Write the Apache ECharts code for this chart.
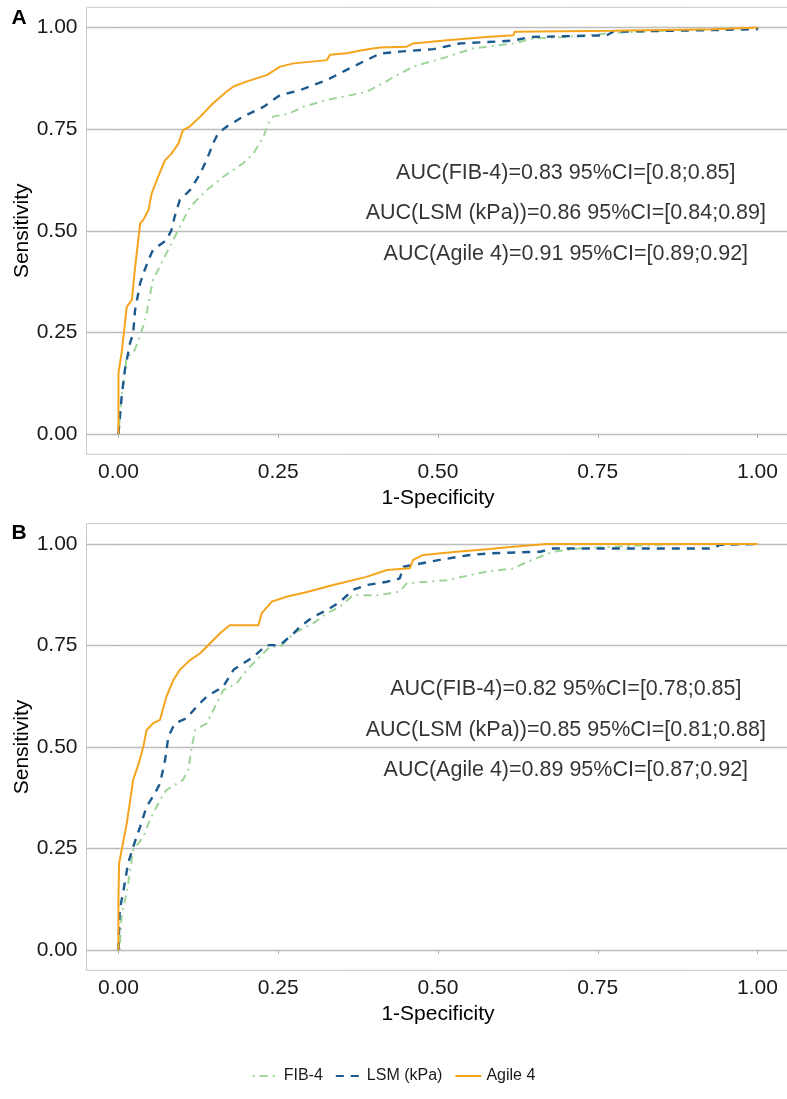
<!DOCTYPE html>
<html><head><meta charset="utf-8">
<script src="https://cdn.jsdelivr.net/npm/echarts@6/dist/echarts.min.js"></script>
<style>html,body{margin:0;padding:0;background:#fff}#c{width:787px;height:1099px}</style>
</head><body><div id="c"></div>
<script>
const seriesNames = ['FIB-4', 'LSM (kPa)', 'Agile 4'];
const tickValues = [0, 0.25, 0.5, 0.75, 1];
const panelLetters = ['A', 'B'];

// Panel A
const A_fib = [[0,0],[0.005,0.092],[0.013,0.19],[0.023,0.198],[0.034,0.24],[0.044,0.297],[0.054,0.379],[0.062,0.404],[0.075,0.445],[0.091,0.494],[0.112,0.559],[0.138,0.6],[0.164,0.633],[0.195,0.666],[0.211,0.69],[0.227,0.731],[0.234,0.764],[0.242,0.781],[0.268,0.789],[0.289,0.805],[0.326,0.822],[0.352,0.83],[0.388,0.842],[0.414,0.863],[0.43,0.878],[0.461,0.904],[0.514,0.928],[0.555,0.949],[0.618,0.961],[0.649,0.973],[0.722,0.979],[0.774,0.987],[0.879,0.994],[0.93,0.996],[1,1]];
const A_lsm = [[0,0],[0.005,0.092],[0.01,0.157],[0.018,0.223],[0.023,0.248],[0.026,0.305],[0.034,0.371],[0.039,0.395],[0.047,0.428],[0.054,0.453],[0.075,0.477],[0.083,0.502],[0.088,0.535],[0.096,0.576],[0.112,0.6],[0.128,0.641],[0.138,0.674],[0.148,0.715],[0.156,0.74],[0.169,0.756],[0.195,0.781],[0.227,0.805],[0.242,0.822],[0.253,0.834],[0.284,0.846],[0.326,0.871],[0.357,0.896],[0.388,0.92],[0.409,0.936],[0.44,0.941],[0.493,0.947],[0.534,0.961],[0.618,0.968],[0.644,0.977],[0.764,0.981],[0.774,0.99],[0.931,0.994],[0.999,0.996],[1,1]];
const A_agile = [[0,0],[0,0.15],[0.005,0.2],[0.013,0.313],[0.021,0.33],[0.026,0.41],[0.034,0.518],[0.039,0.527],[0.047,0.551],[0.052,0.592],[0.062,0.633],[0.073,0.674],[0.083,0.69],[0.094,0.715],[0.101,0.748],[0.111,0.756],[0.128,0.781],[0.148,0.814],[0.169,0.842],[0.18,0.855],[0.2,0.867],[0.232,0.883],[0.253,0.904],[0.274,0.912],[0.326,0.92],[0.331,0.933],[0.357,0.937],[0.383,0.945],[0.409,0.951],[0.451,0.953],[0.461,0.961],[0.514,0.969],[0.576,0.977],[0.618,0.981],[0.62,0.99],[0.774,0.992],[0.93,0.996],[1,1]];
const A_auc = ['AUC(FIB-4)=0.83 95%CI=[0.8;0.85]', 'AUC(LSM (kPa))=0.86 95%CI=[0.84;0.89]', 'AUC(Agile 4)=0.91 95%CI=[0.89;0.92]'];

// Panel B
const B_fib = [[0.002,0],[0.005,0.09],[0.013,0.14],[0.023,0.246],[0.039,0.279],[0.049,0.32],[0.065,0.369],[0.075,0.394],[0.101,0.419],[0.109,0.443],[0.115,0.501],[0.12,0.542],[0.138,0.558],[0.164,0.64],[0.185,0.657],[0.201,0.69],[0.221,0.722],[0.237,0.747],[0.253,0.747],[0.274,0.78],[0.305,0.805],[0.326,0.829],[0.347,0.846],[0.367,0.874],[0.409,0.874],[0.44,0.883],[0.451,0.903],[0.514,0.911],[0.576,0.932],[0.618,0.94],[0.634,0.952],[0.654,0.965],[0.68,0.981],[0.722,0.989],[0.795,0.995],[0.878,1],[1,1]];
const B_lsm = [[0,0],[0.002,0.099],[0.008,0.148],[0.015,0.213],[0.023,0.254],[0.034,0.304],[0.044,0.353],[0.057,0.386],[0.065,0.41],[0.073,0.468],[0.078,0.525],[0.088,0.558],[0.107,0.571],[0.122,0.599],[0.138,0.624],[0.164,0.649],[0.18,0.69],[0.195,0.706],[0.211,0.722],[0.232,0.751],[0.253,0.751],[0.274,0.78],[0.284,0.796],[0.305,0.821],[0.326,0.837],[0.347,0.858],[0.367,0.887],[0.388,0.899],[0.42,0.907],[0.44,0.915],[0.446,0.944],[0.503,0.961],[0.55,0.973],[0.581,0.977],[0.66,0.981],[0.68,0.989],[0.931,0.989],[0.941,0.998],[1,1]];
const B_agile = [[0,0],[0,0.131],[0.001,0.213],[0.008,0.271],[0.013,0.312],[0.023,0.419],[0.031,0.456],[0.039,0.501],[0.044,0.542],[0.054,0.558],[0.065,0.567],[0.075,0.624],[0.086,0.665],[0.096,0.69],[0.112,0.714],[0.128,0.731],[0.143,0.755],[0.159,0.78],[0.174,0.8],[0.219,0.8],[0.224,0.829],[0.24,0.858],[0.263,0.87],[0.295,0.882],[0.336,0.899],[0.388,0.919],[0.42,0.936],[0.456,0.94],[0.461,0.961],[0.477,0.973],[0.529,0.981],[0.576,0.987],[0.618,0.993],[0.67,1],[1,1]];
const B_auc = ['AUC(FIB-4)=0.82 95%CI=[0.78;0.85]', 'AUC(LSM (kPa))=0.85 95%CI=[0.81;0.88]', 'AUC(Agile 4)=0.89 95%CI=[0.87;0.92]'];

const aucX = 0.7;
const aucY = [0.65, 0.55, 0.45];

const FONT = '"Liberation Sans", Arial, sans-serif';
const colors = ['#9fd49a', '#1d5a8e', '#f5a41c'];
const dashes = [[2, 5, 8, 5], [8, 7], 'solid'];
const widths = [2, 2.4, 2];

const grids = [
  {left: 86.5, top: 7.3, width: 703, height: 447},
  {left: 86.5, top: 523.7, width: 703, height: 446.6}
];

function xAx(gi) {
  return {
    type: 'value', gridIndex: gi, min: -0.05, max: 1.05,
    name: '1-Specificity', nameLocation: 'middle', nameGap: 33, nameMoveOverlap: false,
    nameTextStyle: {fontSize: 21, color: '#000', fontFamily: FONT},
    axisLine: {show: false},
    axisTick: {show: true, customValues: tickValues, length: 4, lineStyle: {color: '#b0b0b0'}},
    axisLabel: {customValues: tickValues, formatter: v => v.toFixed(2), fontSize: 21, color: '#1a1a1a', margin: 7, fontFamily: FONT},
    splitLine: {show: false}
  };
}
function yAx(gi) {
  return {
    type: 'value', gridIndex: gi, min: -0.05, max: 1.05,
    name: 'Sensitivity', nameLocation: 'middle', nameGap: 54, nameMoveOverlap: false,
    nameTextStyle: {fontSize: 21, color: '#000', fontFamily: FONT},
    axisLine: {show: false},
    axisTick: {show: true, customValues: tickValues, length: 4, lineStyle: {color: '#b0b0b0'}},
    axisLabel: {customValues: tickValues, formatter: v => v.toFixed(2), fontSize: 21, color: '#1a1a1a', margin: 9, fontFamily: FONT},
    splitLine: {show: true, lineStyle: {color: '#bdbdbd', width: 1.3}}
  };
}

const panels = [[A_fib, A_lsm, A_agile, A_auc], [B_fib, B_lsm, B_agile, B_auc]];
const series = [];
panels.forEach((p, gi) => {
  for (let k = 0; k < 3; k++) {
    series.push({
      type: 'line', name: seriesNames[k], data: p[k],
      xAxisIndex: gi, yAxisIndex: gi,
      symbol: 'none', showSymbol: false,
      lineStyle: {color: colors[k], width: widths[k], type: dashes[k]},
      itemStyle: {color: colors[k]},
      z: 3 + k
    });
  }
  series.push({
    type: 'scatter', name: 'auc' + gi, xAxisIndex: gi, yAxisIndex: gi,
    symbolSize: 1, itemStyle: {color: 'transparent'}, silent: true, z: 10,
    data: aucY.map((y, i) => ({value: [aucX, y], label: {formatter: () => p[3][i]}})),
    label: {show: true, position: 'inside', offset: [0, 3], align: 'center', verticalAlign: 'middle', fontSize: 21.5, color: '#000', fontFamily: FONT}
  });
});

const chart = echarts.init(document.getElementById('c'), null, {renderer: 'canvas'});
chart.setOption({
  animation: false,
  backgroundColor: '#fff',
  textStyle: {fontFamily: FONT},
  grid: grids.map(g => Object.assign({show: true, borderColor: '#c8c8c8', borderWidth: 1, backgroundColor: 'transparent', outerBoundsMode: 'none', containLabel: false}, g)),
  xAxis: [xAx(0), xAx(1)],
  yAxis: [yAx(0), yAx(1)],
  legend: {
    data: seriesNames, top: 1063, left: 'center',
    itemWidth: 26, itemHeight: 14, itemGap: 12,
    itemStyle: {opacity: 0},
    textStyle: {fontSize: 16, color: '#1a1a1a', fontFamily: FONT}
  },
  graphic: [
    {type: 'text', x: 19, y: 18.5, style: {text: panelLetters[0], align: 'center', verticalAlign: 'middle', font: 'bold 21px "Liberation Sans", Arial, sans-serif', fill: '#000'}},
    {type: 'text', x: 19, y: 533, style: {text: panelLetters[1], align: 'center', verticalAlign: 'middle', font: 'bold 21px "Liberation Sans", Arial, sans-serif', fill: '#000'}}
  ],
  series: series
});
</script></body></html>
